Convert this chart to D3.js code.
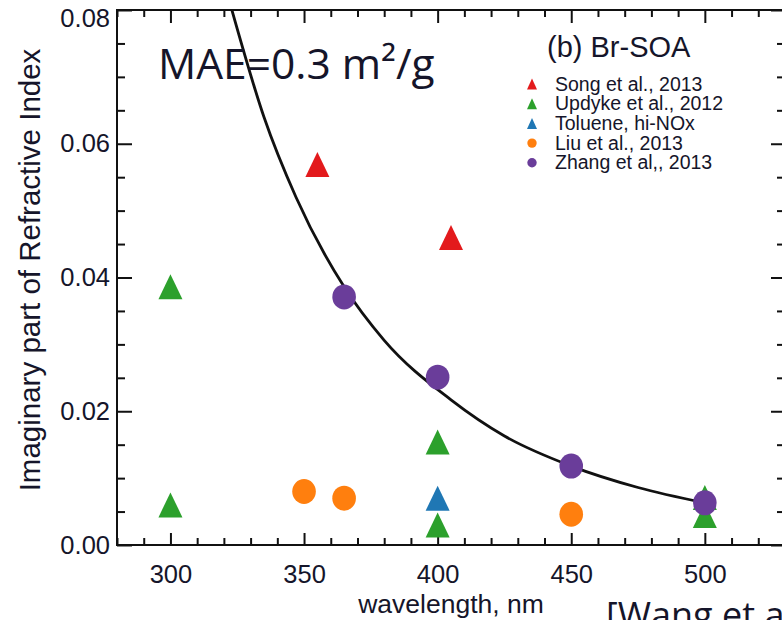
<!DOCTYPE html>
<html>
<head>
<meta charset="utf-8">
<script src="https://cdn.jsdelivr.net/npm/d3@7"></script>
<style>
  html, body { margin: 0; padding: 0; background: #fff; }
  svg { display: block; }
  text { font-family: "Liberation Sans", Arial, sans-serif; fill: #15152a; }
</style>
</head>
<body>
<div id="chart"></div>
<script>
// datos (wavelength nm, k)
const seriesNames = ["Song et al., 2013", "Updyke et al., 2012", "Toluene, hi-NOx", "Liu et al., 2013", "Zhang et al,, 2013"];
const seriesShapes = ["triangle", "triangle", "triangle", "circle", "circle"];
const songPts = [[355, 0.0569], [405, 0.0460]];
const updykePts = [[300, 0.0386], [300, 0.0060], [400, 0.0154], [400, 0.0030], [500, 0.0071], [500, 0.0044]];
const toluenePts = [[400, 0.0070]];
const liuPts = [[350, 0.0080], [365, 0.0070], [450, 0.0046]];
const zhangPts = [[365, 0.0371], [400, 0.0251], [450, 0.0118], [500, 0.0063]];

// curva MAE=0.3 m2/g
const fitWl = [323, 335, 347, 365, 380, 405, 425, 450, 475, 500];
const fitK = [0.080, 0.064, 0.052, 0.0386, 0.0306, 0.0217, 0.0163, 0.0118, 0.0086, 0.0063];

const xTicks = [300, 350, 400, 450, 500];
const yTicks = [0.00, 0.02, 0.04, 0.06, 0.08];

const colors = ["#e31a1c", "#2ca02c", "#1f77b4", "#ff7f0e", "#6a3d9a"];
const allSeries = [songPts, updykePts, toluenePts, liuPts, zhangPts];

// ----------------------------------------------------------

const width = 782;
const height = 620;
const margin = { top: 10, right: -3, bottom: 75, left: 117 };
const innerW = width - margin.left - margin.right;
const innerH = height - margin.top - margin.bottom;

const svg = d3.select("div#chart").append("svg").attr("width", width).attr("height", height)
svg.append("rect").attr("width", width).attr("height", height).attr("fill", "#fff")

const x = d3.scaleLinear().domain([280, 530]).range([0, innerW])
const y = d3.scaleLinear().domain([0, 0.08]).range([innerH, 0])

const g = svg.append("g").attr("transform", `translate(${margin.left}, ${margin.top})`)

svg.append("defs").append("clipPath").attr("id", "plotClip")
    .append("rect").attr("width", innerW).attr("height", innerH)

// ejes
const xMinor = d3.range(280, 531, 10).filter(v => v % 50 !== 0)
const yMinor = d3.range(0, 0.0801, 0.005).filter((v, i) => i % 4 !== 0)

function styleAxis(sel) {
    sel.select(".domain").remove()
    sel.selectAll("line").attr("stroke", "#111").attr("stroke-width", 2)
    sel.selectAll("text").style("font-size", "25.5px").attr("fill", "#15152a")
}

g.append("g").attr("transform", `translate(0, ${innerH})`)
    .call(d3.axisBottom(x).tickValues(xTicks).tickSize(-12).tickSizeOuter(0).tickPadding(20).tickFormat(d3.format("d")))
    .call(styleAxis)
g.append("g").attr("transform", `translate(0, ${innerH})`)
    .call(d3.axisBottom(x).tickValues(xMinor).tickSize(-7).tickSizeOuter(0).tickFormat(""))
    .call(styleAxis)
g.append("g")
    .call(d3.axisTop(x).tickValues(xTicks).tickSize(-13).tickSizeOuter(0).tickFormat(""))
    .call(styleAxis)
g.append("g")
    .call(d3.axisTop(x).tickValues(xMinor).tickSize(-7).tickSizeOuter(0).tickFormat(""))
    .call(styleAxis)

const yAxisG = g.append("g")
    .call(d3.axisLeft(y).tickValues(yTicks).tickSize(-15).tickSizeOuter(0).tickPadding(7).tickFormat(d3.format(".2f")))
    .call(styleAxis)
// la etiqueta superior va un poco mas abajo, como en el original
yAxisG.selectAll(".tick").filter(d => d === 0.08).select("text").attr("y", 8)

g.append("g")
    .call(d3.axisLeft(y).tickValues(yMinor).tickSize(-8).tickSizeOuter(0).tickFormat(""))
    .call(styleAxis)
g.append("g").attr("transform", `translate(${innerW}, 0)`)
    .call(d3.axisRight(y).tickValues(yTicks).tickSize(-14).tickSizeOuter(0).tickFormat(""))
    .call(styleAxis)
g.append("g").attr("transform", `translate(${innerW}, 0)`)
    .call(d3.axisRight(y).tickValues(yMinor).tickSize(-8).tickSizeOuter(0).tickFormat(""))
    .call(styleAxis)

g.append("rect").attr("width", innerW).attr("height", innerH)
    .attr("fill", "none").attr("stroke", "#111").attr("stroke-width", 2)

// titulos de ejes
svg.append("text")
    .attr("transform", `translate(40, 270) rotate(-90)`)
    .attr("text-anchor", "middle")
    .style("font-size", "29.5px")
    .text("Imaginary part of Refractive Index")

svg.append("text")
    .attr("x", margin.left + x(405)).attr("y", 613)
    .attr("text-anchor", "middle")
    .style("font-size", "26.5px")
    .text("wavelength, nm")

// anotaciones
svg.append("text")
    .attr("x", 158).attr("y", 79)
    .style("font-family", "'Open Sans', sans-serif")
    .style("font-size", "42.5px").attr("fill", "#000")
    .text("MAE=0.3 m²/g")

svg.append("text")
    .attr("x", 606).attr("y", 628)
    .style("font-family", "'Open Sans', sans-serif")
    .style("font-size", "36px").attr("fill", "#000")
    .text("[Wang et al.]")

// curva
const line = d3.line().x(d => x(d[0])).y(d => y(d[1])).curve(d3.curveMonotoneX)
g.append("path")
    .datum(fitWl.map((w, i) => [w, fitK[i]]))
    .attr("clip-path", "url(#plotClip)")
    .attr("fill", "none").attr("stroke", "#111").attr("stroke-width", 2.8)
    .attr("d", line)

// marcadores
function triPath(w, h) {
    return `M0,${-h / 2}L${w / 2},${h / 2}L${-w / 2},${h / 2}Z`
}

allSeries.forEach((pts, i) => {
    const grp = g.append("g").attr("fill", colors[i])
    if (seriesShapes[i] === "triangle") {
        grp.selectAll("path").data(pts).enter().append("path")
            .attr("transform", d => `translate(${x(d[0])}, ${y(d[1])})`)
            .attr("d", triPath(24, 25))
    } else {
        grp.selectAll("ellipse").data(pts).enter().append("ellipse")
            .attr("cx", d => x(d[0])).attr("cy", d => y(d[1]))
            .attr("rx", 11.8).attr("ry", 12.5)
    }
})

// leyenda
const legend = svg.append("g").attr("transform", "translate(532, 0)")
legend.append("text").attr("x", 15).attr("y", 57).style("font-size", "29px").text("(b) Br-SOA")
seriesNames.forEach((name, i) => {
    const cy = 84 + i * 19.7
    if (seriesShapes[i] === "triangle") {
        legend.append("path").attr("transform", `translate(0, ${cy})`).attr("d", triPath(10, 11)).attr("fill", colors[i])
    } else {
        legend.append("circle").attr("cx", 0).attr("cy", cy).attr("r", 4.7).attr("fill", colors[i])
    }
    legend.append("text").attr("x", 23).attr("y", cy + 6.5).style("font-size", "19.5px").text(name)
})
</script>
</body>
</html>
